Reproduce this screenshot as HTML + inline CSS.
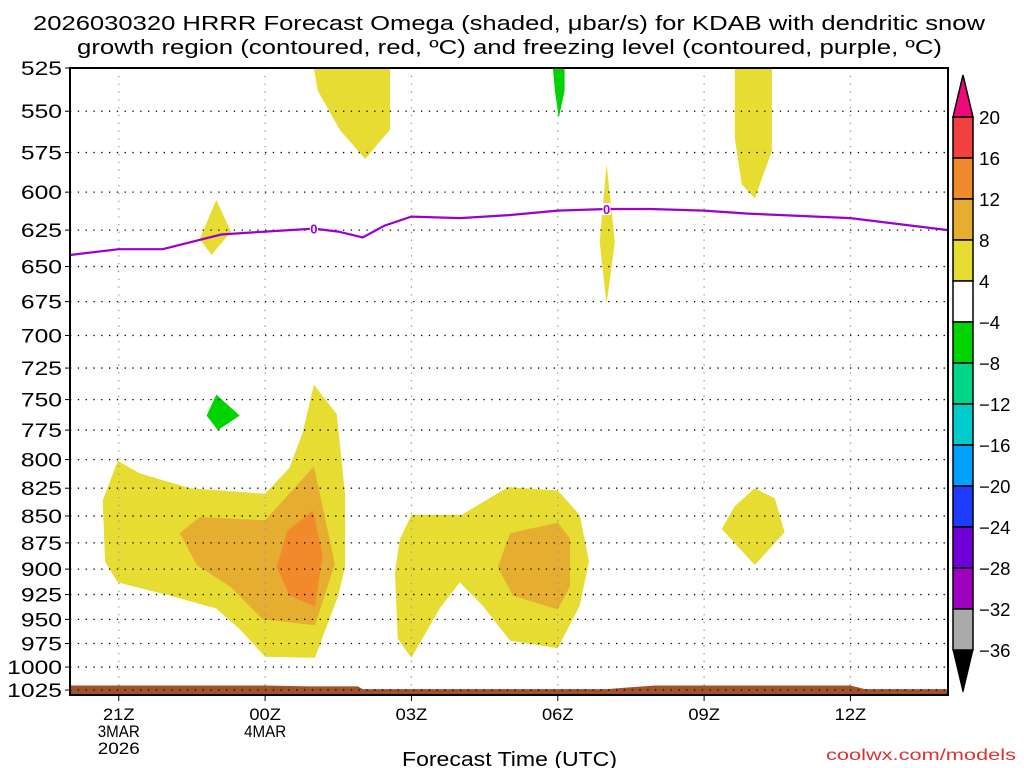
<!DOCTYPE html>
<html><head><meta charset="utf-8"><style>
html,body{margin:0;padding:0;background:#fff;}
svg{display:block;font-family:"Liberation Sans",sans-serif;}
</style></head><body>
<svg id="chart" width="1024" height="768" viewBox="0 0 1024 768">
<text x="33" y="30" font-size="20" textLength="952" lengthAdjust="spacingAndGlyphs">2026030320 HRRR Forecast Omega (shaded, μbar/s) for KDAB with dendritic snow</text>
<text x="77" y="54" font-size="20" textLength="865" lengthAdjust="spacingAndGlyphs">growth region (contoured, red, ºC) and freezing level (contoured, purple, ºC)</text>
<g id="fills"></g>
<g id="grid"></g>
<g id="terrain"></g>
<g id="frz"></g>
<rect x="70" y="68" width="878" height="627" fill="none" stroke="#000" stroke-width="2"/>
<g id="yaxis"></g>
<g id="xaxis"></g>
<text x="402" y="766" font-size="20" textLength="215" lengthAdjust="spacingAndGlyphs">Forecast Time (UTC)</text>
<text x="826" y="760" font-size="16" textLength="190" lengthAdjust="spacingAndGlyphs" fill="#e03030">coolwx.com/models</text>
<g id="cbar"></g>
</svg>
<script>
const pLevels=[525,550,575,600,625,650,675,700,725,750,775,800,825,850,875,900,925,950,975,1000,1025];
const hourTicks=[21,24,27,30,33,36];
const hourLabels=[["21Z","3MAR","2026"],["00Z","4MAR"],["03Z"],["06Z"],["09Z"],["12Z"]];
const frzHours=[20,21,21.9,23.1,24,25,25.5,26,26.45,27,28,29,30,31,31.9,33,33.9,36,37,38];
const frzPres=[642,638,638,628,626,624,626,630,622,616,617,615,612,611,611,612,614,617,621,625];
const frzLabelHours=[25,31];
const sfcHours=[20,24,24.9,25.9,26,31,32,36,36.3,38];
const sfcPres=[1020,1020,1021,1021,1024,1024,1020,1020,1024,1024];
const cbLevels=["20","16","12","8","4","−4","−8","−12","−16","−20","−24","−28","−32","−36"];
const cbColors=["#f24040","#f08a2a","#e6ae30","#e6dc32","#ffffff","#00d400","#00d68a","#00cccc","#00a0ff","#1e3cff","#7000d8","#a000c0","#aaaaaa"];
const fillShapes=[
 {c:"#e6dc32",pts:[[20.98,801],[21.43,812],[22.46,825],[24,830],[24.5,807],[24.77,777],[25,738],[25.47,762],[25.64,831],[25.64,898],[25.5,926],[25.02,990],[24,989],[23.48,960],[23,939],[22.05,926],[20.98,913],[20.72,893],[20.67,836]]},
 {c:"#e6ae30",pts:[[22.25,866],[22.66,851],[24,854],[25,806],[25.43,895],[25.02,956],[23.95,950],[23.28,917],[22.6,896]]},
 {c:"#f08a2a",pts:[[24.45,864],[24.98,845],[25.18,887],[25.02,937],[24.5,926],[24.24,898]]},
 {c:"#e6dc32",pts:[[27,849],[28.03,849],[28.98,824],[30,827],[30.45,849],[30.64,893],[30.45,936],[30,980],[29.02,972],[28.46,936],[27.99,913],[27.58,939],[27,990],[26.72,970],[26.66,903],[26.76,872]]},
 {c:"#e6ae30",pts:[[29.02,866],[30,856],[30.25,871],[30.25,917],[30,940],[29.08,926],[28.77,898]]},
 {c:"#00d400",pts:[[23,746],[23.48,763],[23.03,775],[22.8,763]]},
 {c:"#e6dc32",pts:[[23,605],[23.3,626],[22.9,642],[22.66,631]]},
 {c:"#e6dc32",pts:[[25,525],[26.56,525],[26.56,561],[26.05,579],[25.53,561],[25.08,538]]},
 {c:"#00d400",pts:[[29.9,525],[30.14,525],[30.14,538],[30.02,554],[29.94,538]]},
 {c:"#e6dc32",pts:[[31,582],[31.17,633],[31,677],[30.86,633]]},
 {c:"#e6dc32",pts:[[33.63,525],[34.39,525],[34.39,574],[34.04,604],[33.77,595],[33.63,566]]},
 {c:"#e6dc32",pts:[[34.04,825],[34.45,834],[34.65,865],[34.04,896],[33.36,862],[33.63,841]]}
];
const X0=70,X1=948,Y0=68,Y1=690,H0=20,H1=38,P0=525,P1=1025;
const xs=h=>X0+(h-H0)/(H1-H0)*(X1-X0);
const ys=p=>Y0+Math.log(p/P0)/Math.log(P1/P0)*(Y1-Y0);
const NS="http://www.w3.org/2000/svg";
function mk(tag,attrs,parent){const e=document.createElementNS(NS,tag);for(const k in attrs)e.setAttribute(k,attrs[k]);parent.appendChild(e);return e;}
const gF=document.getElementById('fills');
fillShapes.forEach((s,i)=>{
 const e=mk('polygon',{points:s.pts.map(q=>xs(q[0]).toFixed(1)+','+ys(q[1]).toFixed(1)).join(' '),fill:s.c},gF);
 
 
});
const gG=document.getElementById('grid'),gY=document.getElementById('yaxis'),gX=document.getElementById('xaxis');
pLevels.forEach(p=>{
 const y=ys(p);
 const l=mk('line',{x1:X0,x2:X1,y1:y,y2:y,stroke:'#000','stroke-width':1.3,'stroke-dasharray':'1.3 6.5'},gG);
 
 
 mk('line',{x1:X0-5,x2:X0,y1:y,y2:y,stroke:'#000'},gY);
 const w=String(p).length*13.7;
 const t=mk('text',{x:X0-8-w,y:y+7,'font-size':19,textLength:w,lengthAdjust:'spacingAndGlyphs'},gY);t.textContent=p;
 
 
});
hourTicks.forEach((h,i)=>{
 const x=xs(h);
 const l=mk('line',{x1:x,x2:x,y1:Y0,y2:695,stroke:'#999','stroke-width':1.3,'stroke-dasharray':'1.3 6.5'},gG);
 
 
 mk('line',{x1:x,x2:x,y1:695,y2:701,stroke:'#000'},gX);
 hourLabels[i].forEach((s,j)=>{
  const w=s.length*10.5;
  const t=mk('text',{x:x-w/2,y:720+j*17,'font-size':17,textLength:w,lengthAdjust:'spacingAndGlyphs'},gX);t.textContent=s;
  
  
 });
});
const gT=document.getElementById('terrain');
let tp='M'+X0+',695 '+sfcHours.map((h,i)=>'L'+xs(h).toFixed(1)+','+ys(sfcPres[i]).toFixed(1)).join(' ')+' L'+X1+',695 Z';
const tr=mk('path',{d:tp,fill:'#a0522d'},gT);


pLevels.slice(-1).forEach(p=>{const y=ys(p);mk('line',{x1:X0,x2:X1,y1:y,y2:y,stroke:'#000','stroke-width':1.3,'stroke-dasharray':'1.3 6.5'},gT);});
const gZ=document.getElementById('frz');
const fl=mk('polyline',{points:frzHours.map((h,i)=>xs(h).toFixed(1)+','+ys(frzPres[i]).toFixed(1)).join(' '),fill:'none',stroke:'#9a00d0','stroke-width':2.2},gZ);


frzLabelHours.forEach(h=>{
 let k=0;while(k<frzHours.length-1&&frzHours[k+1]<h)k++;
 const f=(h-frzHours[k])/(frzHours[k+1]-frzHours[k]);const p=frzPres[k]+f*(frzPres[k+1]-frzPres[k]);
 const x=xs(h),y=ys(p);
 mk('rect',{x:x-4,y:y-6,width:8,height:12,fill:'#fff'},gZ);
 const t=mk('text',{x:x,y:y+5,'text-anchor':'middle','font-size':13,'font-weight':'bold',fill:'#9a00d0'},gZ);t.textContent='0';
 
 
});
const gC=document.getElementById('cbar');
const cx=953,cw=20,ct=117,ch=41;
mk('polygon',{points:`${cx},${ct} ${cx+cw},${ct} ${cx+cw/2},75`,fill:'#f0087a',stroke:'#000','stroke-width':1.5},gC);
cbColors.forEach((c,i)=>{
 const r=mk('rect',{x:cx,y:ct+i*ch,width:cw,height:ch,fill:c,stroke:'#000','stroke-width':1.5},gC);
 
 
});
const cb=ct+cbColors.length*ch;
mk('polygon',{points:`${cx},${cb} ${cx+cw},${cb} ${cx+cw/2},692`,fill:'#000',stroke:'#000'},gC);
cbLevels.forEach((s,i)=>{
 const w=s.length*10.5;
 const t=mk('text',{x:cx+cw+6,y:ct+i*ch+7,'font-size':18,textLength:w,lengthAdjust:'spacingAndGlyphs'},gC);t.textContent=s;
 
 
});
</script>
</body></html>
